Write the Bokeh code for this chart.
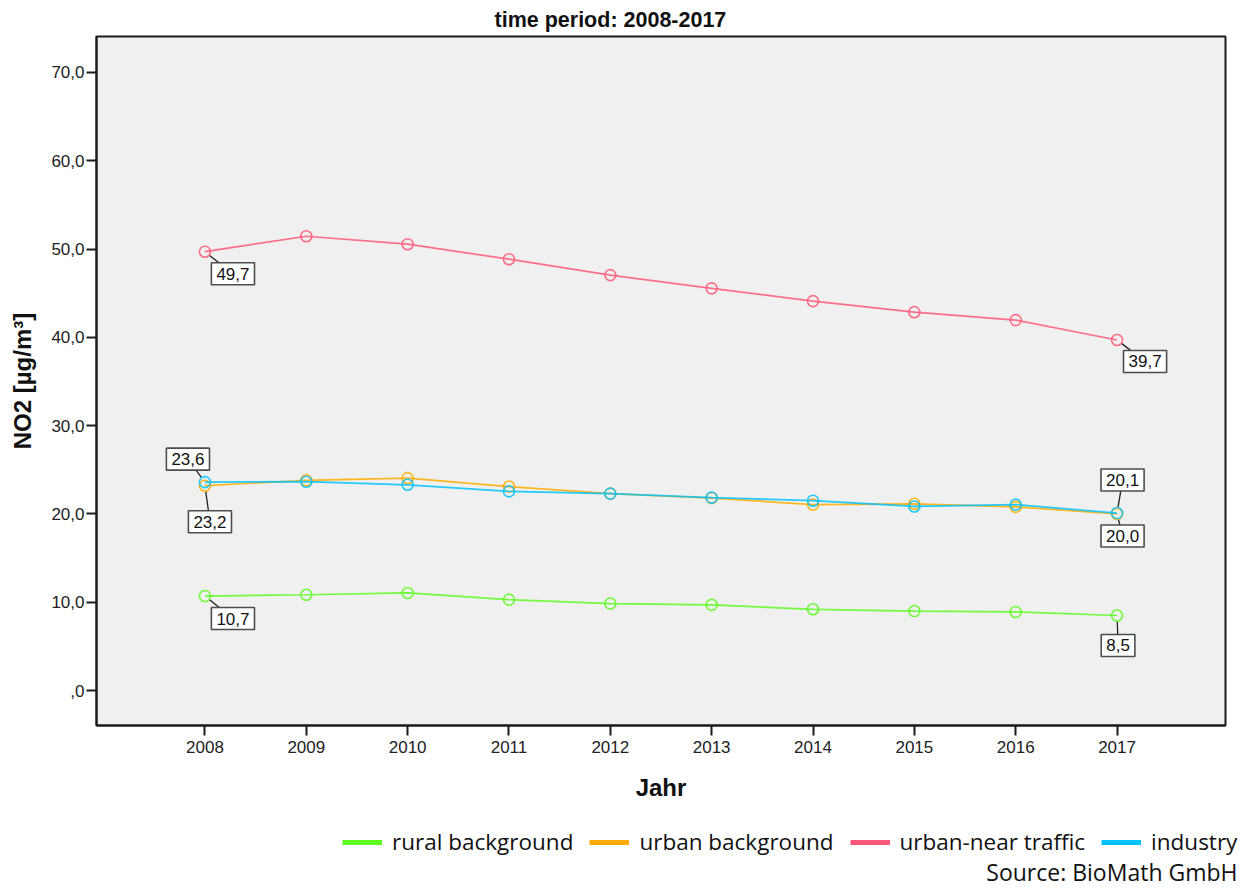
import math
from bokeh.plotting import figure
from bokeh.layouts import column
from bokeh.models import Range1d, FixedTicker, Legend, LegendItem, Label, Title
from bokeh.embed import file_html
from bokeh.resources import INLINE

# ---------------- data ----------------
years = [2008, 2009, 2010, 2011, 2012, 2013, 2014, 2015, 2016, 2017]
rural = [10.7, 10.85, 11.05, 10.3, 9.85, 9.7, 9.2, 9.0, 8.9, 8.5]
urban = [23.2, 23.8, 24.05, 23.1, 22.3, 21.8, 21.05, 21.15, 20.8, 20.0]
traffic = [49.7, 51.45, 50.55, 48.85, 47.05, 45.55, 44.1, 42.85, 41.95, 39.7]
industry = [23.6, 23.65, 23.3, 22.55, 22.3, 21.85, 21.5, 20.85, 21.05, 20.1]

series_names = ["rural background", "urban background", "urban-near traffic", "industry"]
series_values = [rural, urban, traffic, industry]
series_colors = ["#5cfc20", "#ffab00", "#ff5878", "#00c2ff"]

y_ticks = [0, 10, 20, 30, 40, 50, 60, 70]
y_tick_labels = [",0", "10,0", "20,0", "30,0", "40,0", "50,0", "60,0", "70,0"]
x_tick_labels = [str(y) for y in years]

# labelled points: (series index, year index)
label_series = [2, 2, 3, 1, 0, 3, 1, 0]
label_year_idx = [0, 9, 0, 0, 0, 9, 9, 9]
# screen offsets of label box centres (px, right / down) -- styling only
label_dx = [28, 28, -17, 5, 28, 5.5, 5.5, 1]
label_dy = [22, 21.5, -23, 36, 22.5, -33, 22, 30]

title_text = "time period: 2008-2017"
x_title = "Jahr"
y_title = "NO2 [µg/m³]"
source_text = "Source: BioMath GmbH"

# ---------------- layout ----------------
X0, X1 = 2006.93, 2018.07
Y0, Y1 = -3.96, 74.07
W, H = 1244, 808
ML, MR, MT, MB = 96, 19, 35, 83
FW, FH = W - ML - MR, H - MT - MB
px_x = FW / (X1 - X0)
px_y = FH / (Y1 - Y0)

p = figure(width=W, height=H, x_range=Range1d(X0, X1), y_range=Range1d(Y0, Y1),
           output_backend="svg", toolbar_location=None,
           min_border_left=ML, min_border_right=MR, min_border_top=MT, min_border_bottom=MB)

p.background_fill_color = "#f0f0f0"
p.border_fill_color = "white"
p.outline_line_color = "#1a1a1a"
p.outline_line_width = 2
p.xgrid.visible = False
p.ygrid.visible = False

TICK_FONT = "Liberation Sans"

p.yaxis.ticker = FixedTicker(ticks=y_ticks)
p.yaxis.major_label_overrides = {t: l for t, l in zip(y_ticks, y_tick_labels)}
p.xaxis.ticker = FixedTicker(ticks=years)
p.xaxis.major_label_overrides = {t: l for t, l in zip(years, x_tick_labels)}

for ax in (p.xaxis[0], p.yaxis[0]):
    ax.axis_line_color = "#1a1a1a"
    ax.axis_line_width = 2
    ax.major_tick_line_color = "#1a1a1a"
    ax.major_tick_line_width = 2
    ax.major_tick_out = 10
    ax.major_tick_in = 0
    ax.minor_tick_line_color = None
    ax.major_label_text_font = TICK_FONT
    ax.major_label_text_font_size = "17px"
    ax.major_label_text_color = "#222222"
    ax.axis_label_text_font = TICK_FONT
    ax.axis_label_text_font_size = "24px"
    ax.axis_label_text_font_style = "bold"
    ax.axis_label_text_color = "#111111"

p.xaxis.axis_label = x_title
p.yaxis.axis_label = y_title
p.xaxis.major_label_standoff = 5
p.xaxis.axis_label_standoff = 18
p.yaxis.major_label_standoff = 2
p.yaxis.axis_label_standoff = 12

title = Title(text=title_text, align="left", offset=398, text_font=TICK_FONT,
              text_font_size="21.5px", text_font_style="bold", text_color="#111111", standoff=10)
p.add_layout(title, "above")

# leader lines
lx0, ly0, lx1, ly1 = [], [], [], []
for si, yi, dx, dy in zip(label_series, label_year_idx, label_dx, label_dy):
    xv = years[yi]
    yv = series_values[si][yi]
    L = math.hypot(dx, dy)
    sx, sy = dx * 6 / L, dy * 6 / L
    lx0.append(xv + sx / px_x)
    ly0.append(yv - sy / px_y)
    lx1.append(xv + dx / px_x)
    ly1.append(yv - dy / px_y)
p.segment(x0=lx0, y0=ly0, x1=lx1, y1=ly1, line_color="#222222", line_width=1.3)

# series
for name, vals, col in zip(series_names, series_values, series_colors):
    p.line(years, vals, line_color=col, line_width=1.7, line_alpha=0.85)
    p.scatter(years, vals, marker="circle", size=11, fill_color=None,
              line_color=col, line_width=1.6, line_alpha=0.85)

# value labels
for si, yi, dx, dy in zip(label_series, label_year_idx, label_dx, label_dy):
    xv = years[yi]
    yv = series_values[si][yi]
    txt = f"{yv:.1f}".replace(".", ",")
    p.add_layout(Label(x=xv, y=yv, x_offset=dx, y_offset=-dy, text=txt,
                       text_align="center", text_baseline="middle",
                       text_font=TICK_FONT, text_font_size="17px", text_color="#111111",
                       background_fill_color="white", border_line_color="#4d4d4d",
                       border_line_width=1.6, padding=5))

# ---------------- legend / source strip ----------------
H2 = 79
q = figure(width=W, height=H2, x_range=Range1d(0, W), y_range=Range1d(0, H2),
           output_backend="svg", toolbar_location=None, x_axis_type=None, y_axis_type=None,
           min_border=0)
q.frame_align = False
q.outline_line_color = None
q.background_fill_color = "white"
q.border_fill_color = "white"
q.xgrid.visible = False
q.ygrid.visible = False

nan = float("nan")
legend_items = []
for name, col in zip(series_names, series_colors):
    dummy = q.line([nan], [nan], line_color=col, line_width=5)
    legend_items.append(LegendItem(label=name, renderers=[dummy]))

legend = Legend(items=legend_items, orientation="horizontal", location=(342, 30),
                label_text_font="Open Sans", label_text_font_size="22.5px",
                label_text_color="#111111", glyph_width=40, glyph_height=20,
                label_standoff=10, spacing=16, padding=0, margin=0,
                border_line_color=None, background_fill_alpha=0)
q.add_layout(legend, "center")

q.add_layout(Label(x=1237, y=16, text=source_text, text_align="right", text_baseline="middle",
                   text_font="Open Sans", text_font_size="23px", text_color="#111111"))

open("out.html", "w").write(file_html(column(p, q, spacing=0), INLINE))
